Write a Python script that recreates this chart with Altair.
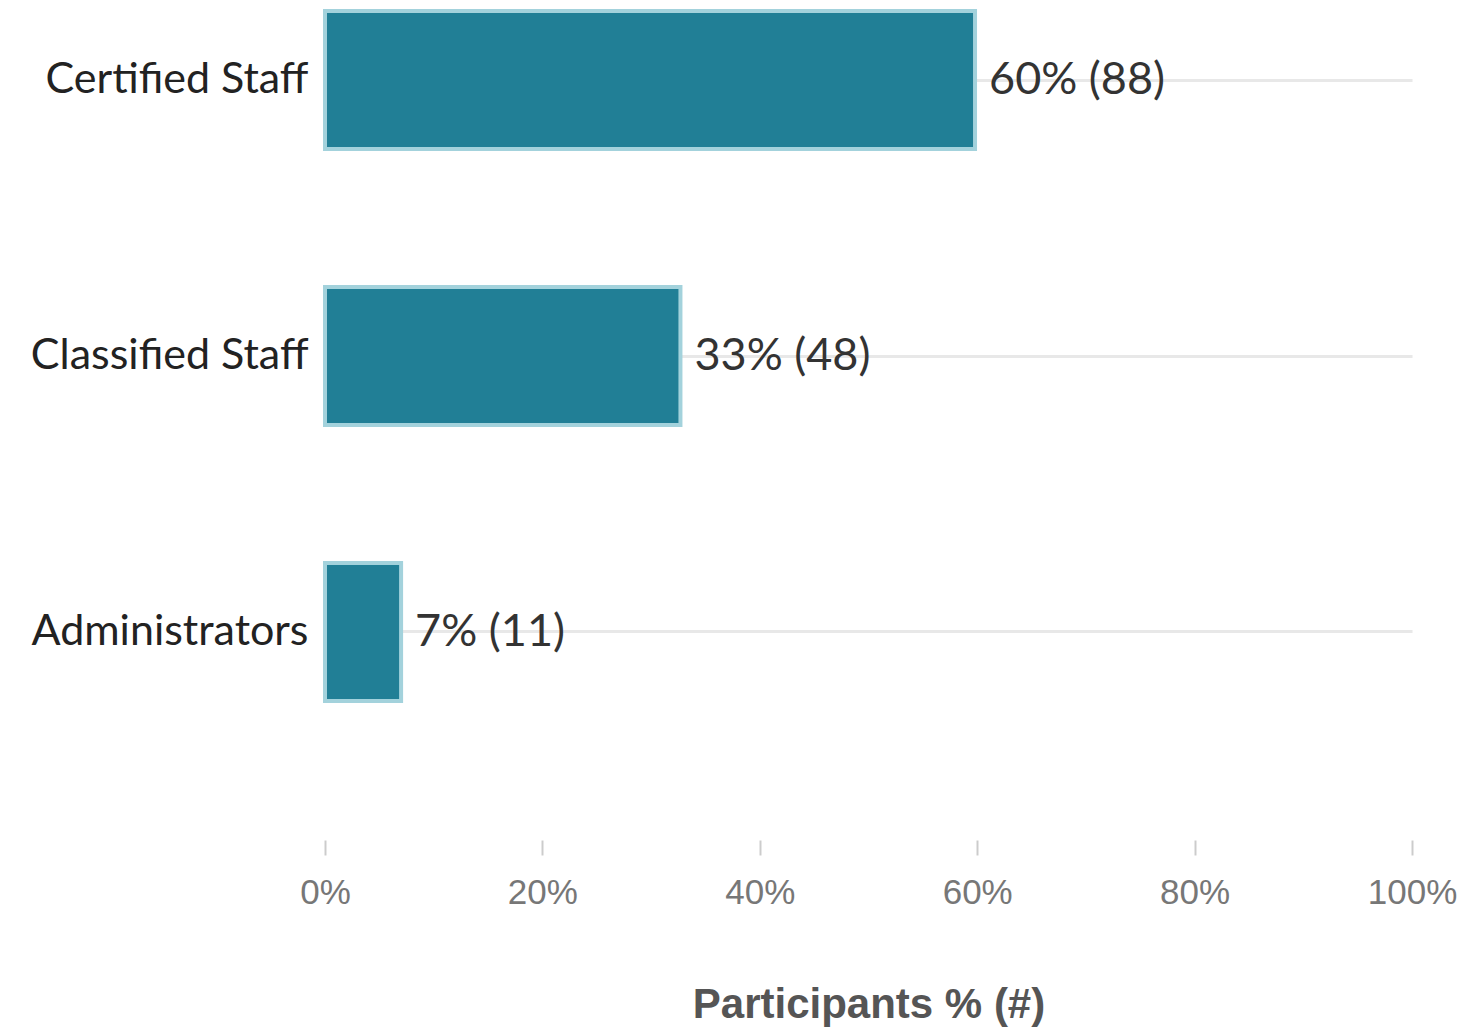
import altair as alt
import pandas as pd

categories = ["Certified Staff", "Classified Staff", "Administrators"]
percents = [59.8, 32.7, 7.0]
labels = ["60% (88)", "33% (48)", "7% (11)"]

df = pd.DataFrame({"group": categories, "pct": percents, "label": labels})

x_enc = alt.X(
    "pct:Q",
    scale=alt.Scale(domain=[0, 100], nice=False, zero=True),
    axis=alt.Axis(
        values=[0, 20, 40, 60, 80, 100],
        labelExpr="datum.value + '%'",
        labelFlush=False,
        grid=False,
        domain=False,
        ticks=True,
        tickColor="#cccccc",
        tickWidth=2,
        tickSize=15,
        offset=128,
        labelFont="Liberation Sans",
        labelFontSize=35,
        labelColor="#777777",
        labelPadding=20,
        title="Participants % (#)",
        titleFont="Liberation Sans",
        titleFontSize=42,
        titleFontWeight="bold",
        titleColor="#555555",
        titlePadding=74,
    ),
)
y_enc = alt.Y(
    "group:N",
    sort=categories,
    scale=alt.Scale(paddingInner=0.5, paddingOuter=0.04),
    axis=alt.Axis(
        title=None,
        ticks=False,
        domain=False,
        grid=True,
        gridColor="#e8e8e8",
        gridWidth=3,
        bandPosition=0.5,
        labelFont="Lato",
        labelFontSize=43,
        labelColor="#222222",
        labelPadding=17,
        labelLimit=400,
    ),
)

bars = alt.Chart(df).mark_bar(
    color="#217f96", stroke="#a3d2dc", strokeWidth=4
).encode(x=x_enc, y=y_enc)

text = alt.Chart(df).mark_text(
    align="left", baseline="middle", dx=14, font="Lato", fontSize=45, color="#333333"
).encode(x="pct:Q", y=alt.Y("group:N", sort=categories), text="label:N")

chart = (
    alt.layer(bars, text)
    .properties(
        width=1087,
        height=712,
        autosize=alt.AutoSizeParams(type="none"),
        padding={"left": 325, "top": 0, "right": 56, "bottom": 315},
        background="white",
    )
    .configure_view(strokeWidth=0, stroke="transparent")
)

chart.save("out.html", embed_options={"renderer": "svg", "actions": False})
